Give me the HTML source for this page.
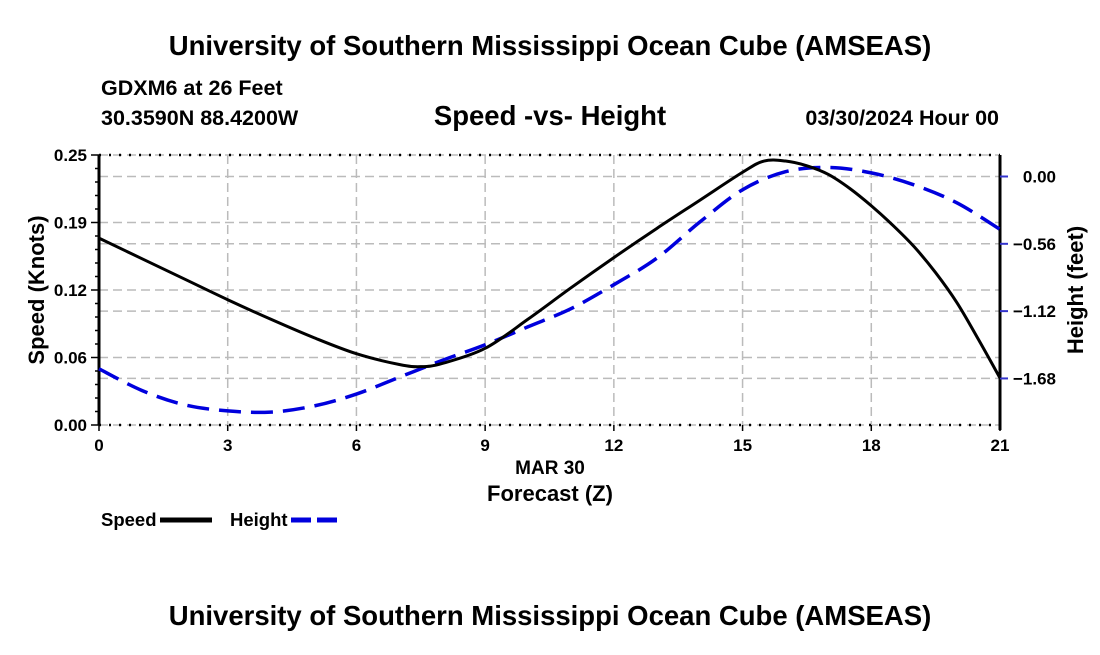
<!DOCTYPE html>
<html><head><meta charset="utf-8"><style>
body{margin:0;background:#fff;}
svg text{font-family:"Liberation Sans",Arial,sans-serif;font-weight:bold;fill:#000;}
</style></head><body>
<svg id="chart" width="1100" height="650" viewBox="0 0 1100 650">
<text x="550" y="55" font-size="27.5" text-anchor="middle">University of Southern Mississippi Ocean Cube (AMSEAS)</text>
<text x="101" y="95" font-size="21.5">GDXM6 at 26 Feet</text>
<text x="101" y="125" font-size="21.5">30.3590N  88.4200W</text>
<text x="550" y="125" font-size="27.5" text-anchor="middle">Speed -vs- Height</text>
<text x="999" y="125" font-size="21.5" text-anchor="end">03/30/2024 Hour 00</text>
<g id="grid"></g>
<g id="axes"></g>
<g id="series"></g>
<text x="550" y="474" font-size="19" text-anchor="middle">MAR 30</text>
<text x="550" y="501" font-size="22" text-anchor="middle">Forecast (Z)</text>
<text transform="translate(44,290) rotate(-90)" font-size="22" text-anchor="middle">Speed (Knots)</text>
<text transform="translate(1083,290) rotate(-90)" font-size="22" text-anchor="middle">Height (feet)</text>
<g>
<text x="101" y="526" font-size="18.5">Speed</text>
<line x1="160" y1="520" x2="212" y2="520" stroke="#000" stroke-width="5"/>
<text x="230" y="526" font-size="18.5">Height</text>
<line x1="291" y1="520" x2="343" y2="520" stroke="#0000dd" stroke-width="5" stroke-dasharray="20,6"/>
</g>
<text x="550" y="625" font-size="27.5" text-anchor="middle">University of Southern Mississippi Ocean Cube (AMSEAS)</text>
</svg>
<script>
const hours=[0,1,2,3,4,5,6,7,7.5,8,9,10,11,12,13,14,15,15.5,16,16.5,17,17.5,18,18.5,19,19.5,20,20.5,21];
const speed=[0.173,0.154,0.135,0.116,0.098,0.081,0.066,0.056,0.054,0.057,0.071,0.098,0.127,0.155,0.182,0.208,0.234,0.2444,0.2444,0.240,0.232,0.219,0.203,0.185,0.165,0.141,0.113,0.079,0.0435];
const hHours=[0,1,2,3,4,5,6,7,8,9,10,11,12,13,14,15,16,17,18,19,20,21];
const height=[-1.60,-1.78,-1.90,-1.95,-1.96,-1.91,-1.81,-1.67,-1.53,-1.40,-1.25,-1.10,-0.90,-0.68,-0.38,-0.11,0.04,0.075,0.03,-0.07,-0.22,-0.44];
const xTicks=[0,3,6,9,12,15,18,21];
const leftTicks=[0,0.0625,0.125,0.1875,0.25];
const leftLabels=["0.00","0.06","0.12","0.19","0.25"];
const rightTicks=[0,-0.56,-1.12,-1.68];
const rightLabels=["0.00","\u22120.56","\u22121.12","\u22121.68"];
const X0=99,X1=1000,YT=155,YB=425;
const xs=h=>X0+(X1-X0)*h/21;
const ys=v=>YB-(YB-YT)*v/0.25;
const yh=v=>176.5-v*120.2;
const NS="http://www.w3.org/2000/svg";
function mk(parent,tag,attrs){const e=document.createElementNS(NS,tag);for(const k in attrs)e.setAttribute(k,attrs[k]);document.getElementById(parent).appendChild(e);return e;}
const gs={stroke:"#bbb","stroke-width":1.5,"stroke-dasharray":"9,5"};
xTicks.forEach(t=>{if(t>0&&t<21){const l=mk("grid","line",Object.assign({x1:xs(t),x2:xs(t),y1:YT,y2:YB},gs));

}});
leftTicks.forEach(t=>{const l=mk("grid","line",Object.assign({x1:X0,x2:X1,y1:ys(t),y2:ys(t)},gs));

});
rightTicks.forEach(t=>{const l=mk("grid","line",Object.assign({x1:X0,x2:X1,y1:yh(t),y2:yh(t)},gs));

});
[[X0,YT,X0,YB,"#000",3,null],[X1,YT,X1,YB+5,"#000",3,null],[X0,YT,X1,YT,"#000",2.5,"2,8"],[X0,YB,X1,YB,"#000",2.5,"2,8"]].forEach(a=>{
const l=mk("axes","line",{x1:a[0],y1:a[1],x2:a[2],y2:a[3],stroke:a[4],"stroke-width":a[5]});if(a[6])l.setAttribute("stroke-dasharray",a[6]);

});
for(let v=0;v<=0.25001;v+=0.25/20){const big=leftTicks.some(t=>Math.abs(t-v)<1e-6);
const l=mk("axes","line",{x1:X0-(big?8:4),x2:X0,y1:ys(v),y2:ys(v),stroke:"#000","stroke-width":1.5});

}
leftTicks.forEach((t,i)=>{const e=mk("axes","text",{x:X0-12,y:ys(t)+6,"font-size":17,"text-anchor":"end"});e.textContent=leftLabels[i];

});
rightTicks.forEach((t,i)=>{const l=mk("axes","line",{x1:X1,x2:X1+8,y1:yh(t),y2:yh(t),stroke:"#33c","stroke-width":2});


const e=mk("axes","text",{x:1056,y:yh(t)+6,"font-size":17,"text-anchor":"end"});e.textContent=rightLabels[i];

});
xTicks.forEach(t=>{const l=mk("axes","line",{x1:xs(t),x2:xs(t),y1:YB,y2:YB+6,stroke:"#000","stroke-width":1.5});


const e=mk("axes","text",{x:xs(t),y:YB+26,"font-size":17,"text-anchor":"middle"});e.textContent=String(t);

});
function smooth(pts){let d="M"+pts[0][0]+","+pts[0][1];for(let i=0;i<pts.length-1;i++){const p0=pts[i-1]||pts[i],p1=pts[i],p2=pts[i+1],p3=pts[i+2]||p2;
d+=" C"+(p1[0]+(p2[0]-p0[0])/6)+","+(p1[1]+(p2[1]-p0[1])/6)+" "+(p2[0]-(p3[0]-p1[0])/6)+","+(p2[1]-(p3[1]-p1[1])/6)+" "+p2[0]+","+p2[1];}return d;}
const hp=mk("series","path",{d:smooth(hHours.map((h,i)=>[xs(h),yh(height[i])])),fill:"none",stroke:"#0000dd","stroke-width":3.5,"stroke-dasharray":"22,10"});


const sp=mk("series","path",{d:smooth(hours.map((h,i)=>[xs(h),ys(speed[i])])),fill:"none",stroke:"#000","stroke-width":3});


</script>
</body></html>
